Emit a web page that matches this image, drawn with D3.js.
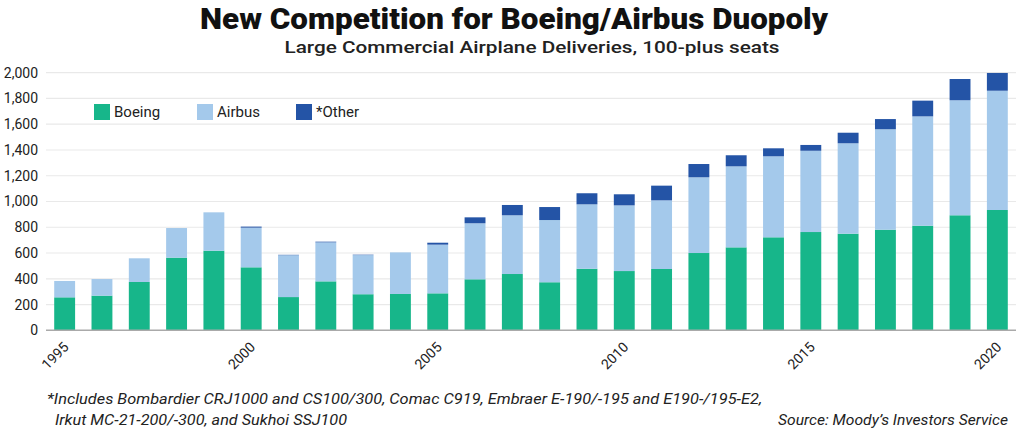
<!DOCTYPE html>
<html>
<head>
<meta charset="utf-8">
<script src="https://cdn.jsdelivr.net/npm/d3@7"></script>
<style>
  body { margin: 0; background: #fff; }
  svg { display: block; }
</style>
</head>
<body>
<div id="chart"></div>
<script>
// Données
const years = ["1995","1996","1997","1998","1999","2000","2001","2002","2003","2004","2005","2006","2007",
               "2008","2009","2010","2011","2012","2013","2014","2015","2016","2017","2018","2019","2020"]
const boeing = [256,269,375,564,618,489,258,380,280,282,287,396,437,373,478,460,476,600,644,722,763,750,781,812,893,934]
const airbus = [127,129,184,230,298,308,325,303,304,323,378,435,456,483,500,510,533,588,629,629,631,702,780,849,893,926]
const other  = [0,0,0,0,0,8,3,5,3,0,15,46,80,101,86,86,114,103,86,62,45,82,79,122,165,138]
const yTicks = [0,200,400,600,800,1000,1200,1400,1600,1800,2000]
const xLabels = ["1995","2000","2005","2010","2015","2020"]
const seriesNames = ["Boeing","Airbus","*Other"]
const colors = ["#17b68a","#a4c9eb","#2454a6"]

const width = 1024, height = 432

const svg = d3.select("#chart")
  .append("svg")
    .attr("width", width)
    .attr("height", height)

// Tableau pour d3.stack
const table = years.map((y, i) => ({year: y, Boeing: boeing[i], Airbus: airbus[i], "*Other": other[i]}))
const stacked = d3.stack().keys(seriesNames)(table)

const x = d3.scaleBand()
  .domain(years)
  .range([46, 1016])
  .paddingInner(0.44)
  .paddingOuter(0.22)

const y = d3.scaleLinear()
  .domain([0, 2000])
  .range([330.3, 72.7])

// Grille
svg.append("g")
  .selectAll("line")
  .data(yTicks.slice(1))
  .join("line")
    .attr("x1", 46).attr("x2", 1016)
    .attr("y1", d => y(d)).attr("y2", d => y(d))
    .attr("stroke", "#e9e9e9")
    .attr("stroke-width", 1.2)

// Axe Y
const yAxis = svg.append("g")
  .attr("transform", "translate(38,0)")
  .call(d3.axisLeft(y).tickValues(yTicks).tickSize(0).tickFormat(d3.format(",")))
yAxis.select(".domain").remove()
yAxis.selectAll("text")
  .attr("x", 0)
  .style("font-family", "Roboto, 'DejaVu Sans', sans-serif")
  .style("font-size", "14px")
  .attr("fill", "#222")

// Barres empilées
svg.append("g")
  .selectAll("g")
  .data(stacked)
  .join("g")
    .attr("fill", (d, i) => colors[i])
  .selectAll("rect")
  .data(d => d)
  .join("rect")
    .attr("x", d => x(d.data.year))
    .attr("y", d => y(d[1]))
    .attr("width", x.bandwidth())
    .attr("height", d => y(d[0]) - y(d[1]))

// Ligne de base
svg.append("line")
  .attr("x1", 46).attr("x2", 1016)
  .attr("y1", y(0)).attr("y2", y(0))
  .attr("stroke", "#aaa")
  .attr("stroke-width", 1.5)

// Étiquettes X
svg.append("g")
  .selectAll("text")
  .data(xLabels)
  .join("text")
    .attr("transform", d => `translate(${x(d) + x.bandwidth() / 2 + 5},348)rotate(-45)`)
    .attr("text-anchor", "end")
    .style("font-family", "Roboto, 'DejaVu Sans', sans-serif")
    .style("font-size", "14px")
    .attr("fill", "#222")
    .text(d => d)

// Légende
const legend = svg.append("g")
  .selectAll("g")
  .data(seriesNames)
  .join("g")
    .attr("transform", (d, i) => `translate(${[94, 197, 296][i]},104)`)
legend.append("rect")
  .attr("width", 16).attr("height", 16)
  .attr("fill", (d, i) => colors[i])
legend.append("text")
  .attr("x", 20).attr("y", 13)
  .style("font-family", "Roboto, 'DejaVu Sans', sans-serif")
  .style("font-size", "15px")
  .attr("fill", "#222")
  .text(d => d)

// Titres
svg.append("text")
  .attr("x", 514).attr("y", 29)
  .attr("text-anchor", "middle")
  .attr("textLength", 628)
  .attr("lengthAdjust", "spacingAndGlyphs")
  .style("font-family", "Roboto, 'DejaVu Sans', sans-serif")
  .style("font-weight", "900")
  .style("font-size", "30px")
  .attr("fill", "#111")
  .text("New Competition for Boeing/Airbus Duopoly")

svg.append("text")
  .attr("x", 532).attr("y", 53)
  .attr("text-anchor", "middle")
  .attr("textLength", 495)
  .attr("lengthAdjust", "spacingAndGlyphs")
  .style("font-family", "Roboto, 'DejaVu Sans', sans-serif")
  .style("font-weight", "500")
  .style("font-size", "16px")
  .attr("fill", "#222")
  .text("Large Commercial Airplane Deliveries, 100-plus seats")

// Notes
const note = svg.append("g")
  .style("font-family", "Roboto, 'DejaVu Sans', sans-serif")
  .style("font-style", "italic")
  .style("font-size", "15px")
  .attr("fill", "#222")
note.append("text")
  .attr("x", 47).attr("y", 404)
  .attr("textLength", 715)
  .attr("lengthAdjust", "spacingAndGlyphs")
  .text("*Includes Bombardier CRJ1000 and CS100/300, Comac C919, Embraer E-190/-195 and E190-/195-E2,")
note.append("text")
  .attr("x", 55).attr("y", 425)
  .attr("textLength", 292)
  .attr("lengthAdjust", "spacingAndGlyphs")
  .text("Irkut MC-21-200/-300, and Sukhoi SSJ100")
note.append("text")
  .attr("x", 1008).attr("y", 425)
  .attr("text-anchor", "end")
  .attr("textLength", 230)
  .attr("lengthAdjust", "spacingAndGlyphs")
  .text("Source: Moody’s Investors Service")
</script>
</body>
</html>
